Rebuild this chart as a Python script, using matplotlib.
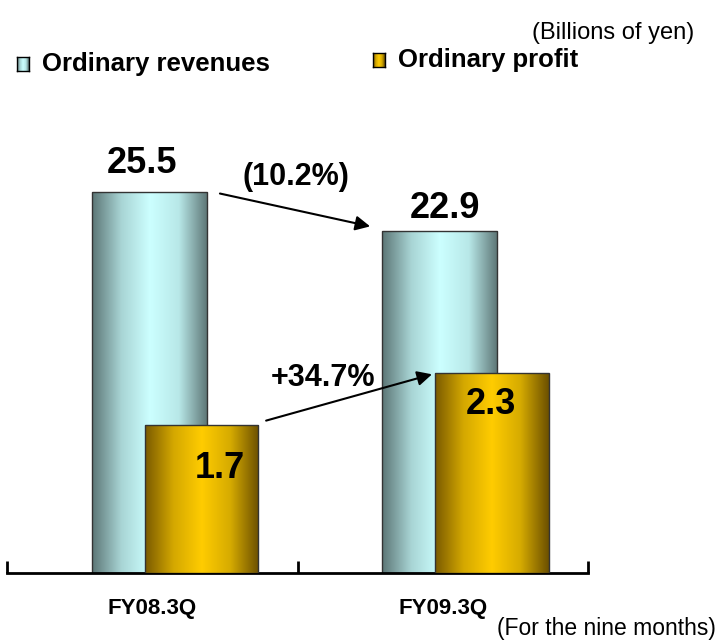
import numpy as np
import matplotlib
matplotlib.use("Agg")
import matplotlib.pyplot as plt
from matplotlib.colors import LinearSegmentedColormap

plt.rcParams["font.family"] = ["Liberation Sans", "DejaVu Sans"]

# data
periods = ["FY08.3Q", "FY09.3Q"]
revenues = [25.5, 22.9]
profit = [1.7, 2.3]
rev_change = "(10.2%)"
profit_change = "+34.7%"

cmap_rev = LinearSegmentedColormap.from_list("rev", ["#5c7676", "#a8d4d4", "#ccffff", "#b8e8e8", "#5c7474"])
cmap_pro = LinearSegmentedColormap.from_list("pro", ["#7a5a00", "#d4a800", "#ffcc00", "#d6ab00", "#6c5000"])


def gradient_bars(ax, bars, cmap):
    grad = np.linspace(0, 1, 256).reshape(1, -1)
    for b in bars:
        x, y = b.get_xy()
        w, h = b.get_width(), b.get_height()
        im = ax.imshow(grad, cmap=cmap, aspect="auto", extent=[x, x + w, y, y + h],
                       zorder=b.get_zorder() - 0.1)
        im.set_clip_path(b)
        b.set_facecolor("none")


fig = plt.figure(figsize=(7.21, 6.42), dpi=100)
ax = fig.add_axes([7 / 721, 69 / 642, 581 / 721, 473 / 642])
ax2 = ax.twinx()

x = np.arange(len(periods)) + 0.5
rev_bars = ax.bar(x - 0.01, revenues, width=0.396, edgecolor="#333333", linewidth=1, zorder=2)
gradient_bars(ax, rev_bars, cmap_rev)
pro_bars = ax2.bar(x + 0.17, profit, width=0.39, edgecolor="#333333", linewidth=1, zorder=2)
gradient_bars(ax2, pro_bars, cmap_pro)

ax.set_xlim(0, 2)
ax.set_ylim(0, 31.66)
ax2.set_ylim(0, 5.43)

for a in (ax, ax2):
    for s in ["top", "left", "right"]:
        a.spines[s].set_visible(False)
    a.set_yticks([])
ax2.spines["bottom"].set_visible(False)
ax.spines["bottom"].set_linewidth(2)
ax.set_xticks([0, 1, 2])
ax.set_xticklabels([])
ax.tick_params(axis="x", which="major", direction="in", length=9, width=2)
ax.set_xticks(x, minor=True)
ax.set_xticklabels(periods, minor=True, fontsize=16, fontweight="bold")
ax.tick_params(axis="x", which="minor", length=0, pad=18)

# value labels
big = dict(fontsize=26, fontweight="bold", ha="center", va="center")
ax2.text(0.465, 27.4, f"{revenues[0]}", transform=ax.transData, **big)
ax2.text(1.508, 24.4, f"{revenues[1]}", transform=ax.transData, **big)
ax2.text(0.733, 7.0, f"{profit[0]}", transform=ax.transData, **big)
ax2.text(1.666, 11.3, f"{profit[1]}", transform=ax.transData, **big)

mid = dict(fontsize=22, fontweight="bold", ha="center", va="center")
ax2.text(0.995, 26.5, rev_change, transform=ax.transData, **mid)
ax2.text(1.088, 13.05, profit_change, transform=ax.transData, **mid)

arrow = dict(arrowstyle="-|>", color="black", lw=1.5, mutation_scale=22, shrinkA=0, shrinkB=0)
ax2.annotate("", xy=(1.25, 23.2), xytext=(0.733, 25.4), xycoords=ax.transData,
             textcoords=ax.transData, arrowprops=arrow)
ax2.annotate("", xy=(1.463, 13.3), xytext=(0.892, 10.2), xycoords=ax.transData,
             textcoords=ax.transData, arrowprops=arrow)

# legend
grad = np.linspace(0, 1, 64).reshape(1, -1)
for (lx, ly), cm_, label in [((17, 57), cmap_rev, "Ordinary revenues"), ((373, 53), cmap_pro, "Ordinary profit")]:
    sw = fig.add_axes([lx / 721, 1 - (ly + 14) / 642, 12 / 721, 14 / 642])
    sw.imshow(grad, cmap=cm_, aspect="auto")
    sw.set_xticks([])
    sw.set_yticks([])
    for s in sw.spines.values():
        s.set_linewidth(1)
    fig.text((lx + 25) / 721, 1 - (ly + 7) / 642, label, fontsize=18.5, fontweight="bold",
             ha="left", va="center")

fig.text(694 / 721, 1 - 33 / 642, "(Billions of yen)", fontsize=17, ha="right", va="center")
fig.text(716 / 721, 1 - 628 / 642, "(For the nine months)", fontsize=16.5, ha="right", va="center")

fig.savefig("out.png", dpi=100)
